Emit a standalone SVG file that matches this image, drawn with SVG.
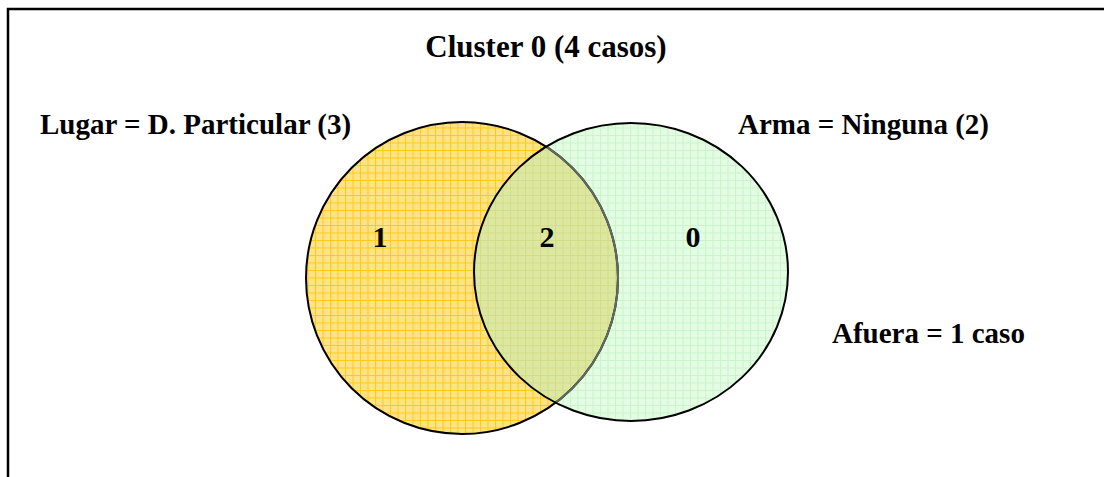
<svg xmlns="http://www.w3.org/2000/svg" width="1104" height="477" viewBox="0 0 1104 477">
<style>
text{font-family:"Liberation Serif","Times New Roman",serif;font-weight:bold;fill:#000}
.lbl{font-size:29px}
.ttl{font-size:31px}
.num{font-size:30px}
</style>
<defs>
<pattern id="py" width="7.5" height="7.5" patternUnits="userSpaceOnUse">
<rect width="7.5" height="7.5" fill="#FFE385"/>
<path d="M0 0.5H7.5M0.5 0V7.5" stroke="#FFC919" stroke-width="1"/>
</pattern>
<pattern id="pg" width="7.5" height="7.5" patternUnits="userSpaceOnUse">
<rect width="7.5" height="7.5" fill="#E3FCE3"/>
<path d="M0 0.5H7.5M0.5 0V7.5" stroke="#C9F5C9" stroke-width="1"/>
</pattern>
<pattern id="po" width="7.5" height="7.5" patternUnits="userSpaceOnUse">
<rect width="7.5" height="7.5" fill="#DCE8A2"/>
<path d="M0 0.5H7.5M0.5 0V7.5" stroke="#D3DC86" stroke-width="1"/>
</pattern>
<clipPath id="cE"><ellipse cx="631" cy="272" rx="157" ry="149"/></clipPath>
</defs>
<g id="frame"><path d="M8 477V9H1104" fill="none" stroke="#000" stroke-width="2.5"/></g>
<g id="set-lugar">
<circle cx="462" cy="278" r="156" fill="url(#py)"/>
</g>
<g id="set-arma">
<ellipse cx="631" cy="272" rx="157" ry="149" fill="url(#pg)"/>
</g>
<g id="overlap">
<circle cx="462" cy="278" r="156" fill="url(#po)" clip-path="url(#cE)"/>
</g>
<g id="connectors">
<circle cx="462" cy="278" r="156" fill="none" stroke="#000" stroke-width="2"/>
<circle cx="462" cy="278" r="156" fill="none" stroke="#5E6A5E" stroke-width="2.2" clip-path="url(#cE)"/>
<ellipse cx="631" cy="272" rx="157" ry="149" fill="none" stroke="#000" stroke-width="2"/>
</g>
<g id="texts">
<text class="ttl" x="546" y="57" text-anchor="middle">Cluster 0 (4 casos)</text>
<text class="lbl" x="40" y="134">Lugar = D. Particular (3)</text>
<text class="lbl" x="738" y="134">Arma = Ninguna (2)</text>
<text class="lbl" x="832" y="343">Afuera = 1 caso</text>
<text class="num" x="380" y="247" text-anchor="middle">1</text>
<text class="num" x="547" y="247" text-anchor="middle">2</text>
<text class="num" x="693" y="247" text-anchor="middle">0</text>
</g>
</svg>
